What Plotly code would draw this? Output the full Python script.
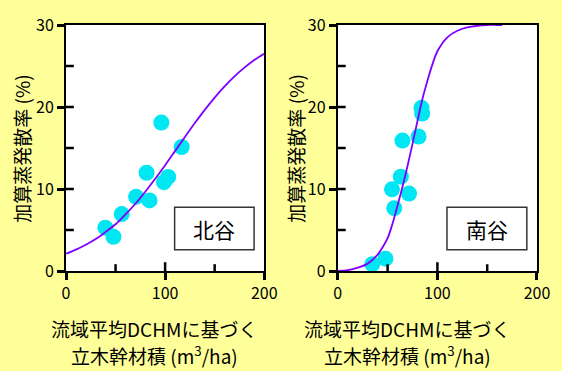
import plotly.graph_objects as go

# ---- data ----
north_x = [39.7, 47.9, 56.2, 70.7, 81.3, 84.3, 96.2, 98.8, 103.1, 116.7]
north_y = [5.28, 4.17, 6.94, 9.05, 11.98, 8.61, 18.1, 10.83, 11.47, 15.12]
north_curve_x = [0, 10, 20, 30, 40, 50, 60, 70, 80, 90, 100, 110, 120, 130, 140, 150, 160, 170, 180, 190, 200]
north_curve_y = [2.1, 2.6, 3.2, 3.9, 4.77, 5.7, 6.9, 8.2, 9.67, 11.24, 12.9, 14.62, 16.35, 18.04, 19.65, 21.15, 22.52, 23.74, 24.8, 25.73, 26.5]

south_x = [34.6, 47.8, 56.7, 54.4, 63.3, 64.9, 71.5, 81.1, 84.0, 84.7]
south_y = [0.83, 1.5, 7.66, 9.96, 11.5, 15.9, 9.44, 16.4, 19.9, 19.2]
south_curve_x = [0, 10, 20, 30, 40, 45, 50, 55, 60, 65, 70, 75, 80, 85, 90, 95, 100, 110, 120, 130, 140, 150, 160, 165]
south_curve_y = [0, 0.1, 0.4, 0.9, 2.0, 2.9, 4.0, 5.8, 8.0, 10.3, 12.8, 15.5, 18.3, 21.0, 23.2, 25.2, 26.8, 28.5, 29.3, 29.7, 29.9, 30.0, 30.0, 30.0]

x_ticks = [0, 100, 200]
y_ticks = [0, 10, 20, 30]
x_inner_ticks = [50, 100, 150]
y_inner_ticks = [5, 10, 15, 20, 25]
labels = ["北谷", "南谷"]
y_title = "加算蒸発散率 (%)"
x_title1 = "流域平均DCHMに基づく"
x_title2 = "立木幹材積 (m<sup>3</sup>/ha)"

BG = "#FFFF99"
CYAN = "#00E6F2"
PURPLE = "#8000FF"
FONT = "Noto Sans CJK JP"
AX = "#000000"

W, H = 562, 371
L, R, T, B = 66, 16, 19, 100
pw = W - L - R
ph = H - T - B


def px2paper(px, py):
    return (px - L) / pw, (H - B - py) / ph


fig = go.Figure()
for i, (mx, my, cx, cy) in enumerate([(north_x, north_y, north_curve_x, north_curve_y),
                                      (south_x, south_y, south_curve_x, south_curve_y)]):
    xa = "x" if i == 0 else "x2"
    ya = "y" if i == 0 else "y2"
    fig.add_trace(go.Scatter(x=mx, y=my, mode="markers", xaxis=xa, yaxis=ya,
                             marker=dict(size=16, color=CYAN, line=dict(width=0)),
                             showlegend=False, cliponaxis=False))
    fig.add_trace(go.Scatter(x=cx, y=cy, mode="lines", xaxis=xa, yaxis=ya,
                             line=dict(color=PURPLE, width=1.8, shape="spline"),
                             showlegend=False))

axis_common = dict(showline=True, linecolor=AX, linewidth=2, mirror=True,
                   showgrid=False, zeroline=False, ticks="outside", ticklen=7,
                   tickwidth=2.5, tickcolor=AX,
                   tickfont=dict(family=FONT, size=16, color="black"))

d1 = [0, (268 - L) / pw]
d2 = [(343 - L) / pw, 1]
fig.update_layout(
    width=W, height=H,
    margin=dict(l=L, r=R, t=T, b=B),
    paper_bgcolor=BG, plot_bgcolor="white",
    xaxis=dict(domain=d1, range=[0, 200], tick0=0, dtick=100, tickmode="linear", anchor="y", **axis_common),
    yaxis=dict(domain=[0, 1], range=[0, 30], tick0=0, dtick=10, tickmode="linear", anchor="x", **axis_common),
    xaxis2=dict(domain=d2, range=[0, 200], tick0=0, dtick=100, tickmode="linear", anchor="y2", **axis_common),
    yaxis2=dict(domain=[0, 1], range=[0, 30], tick0=0, dtick=10, tickmode="linear", anchor="x2", **axis_common),
)

plot_w = (268 - L)
# inner tick marks (domain-relative length)
for xr, yr in [("x", "y"), ("x2", "y2")]:
    for v in y_inner_ticks:
        fig.add_shape(type="line", xref=xr + " domain", yref=yr,
                      x0=0, x1=8 / plot_w, y0=v, y1=v, layer="above",
                      line=dict(color=AX, width=2.5))
    for v in x_inner_ticks:
        ln = 9 if v == 100 else 7
        fig.add_shape(type="line", xref=xr, yref=yr + " domain",
                      y0=0, y1=ln / ph, x0=v, x1=v, layer="above",
                      line=dict(color=AX, width=2.5))

# label boxes
for i, lab in enumerate(labels):
    xr = "x" if i == 0 else "x2"
    yr = "y" if i == 0 else "y2"
    fig.add_shape(type="rect", xref=xr, yref=yr, x0=109.6, x1=189.8, y0=2.58, y1=7.77,
                  line=dict(color="#333333", width=1.5), fillcolor="white")
    fig.add_annotation(xref=xr, yref=yr, x=149.7, y=5.18, text=lab, showarrow=False,
                       font=dict(family=FONT, size=21, color="black"))

# titles
for cx_px, ycx_px in [(156, 20), (414, 299)]:
    ax, ay = px2paper(cx_px, 330)
    fig.add_annotation(xref="paper", yref="paper", x=ax, y=ay, text=x_title1,
                       showarrow=False, xanchor="center", yanchor="middle",
                       font=dict(family=FONT, size=19, color="black"))
    ax, ay = px2paper(cx_px, 357)
    fig.add_annotation(xref="paper", yref="paper", x=ax, y=ay, text=x_title2,
                       showarrow=False, xanchor="center", yanchor="middle",
                       font=dict(family=FONT, size=19, color="black"))
    ax, ay = px2paper(ycx_px, 145)
    fig.add_annotation(xref="paper", yref="paper", x=ax, y=ay, text=y_title,
                       showarrow=False, textangle=-90, xanchor="center", yanchor="middle",
                       font=dict(family=FONT, size=19, color="black"))

fig.write_html("out.html")
